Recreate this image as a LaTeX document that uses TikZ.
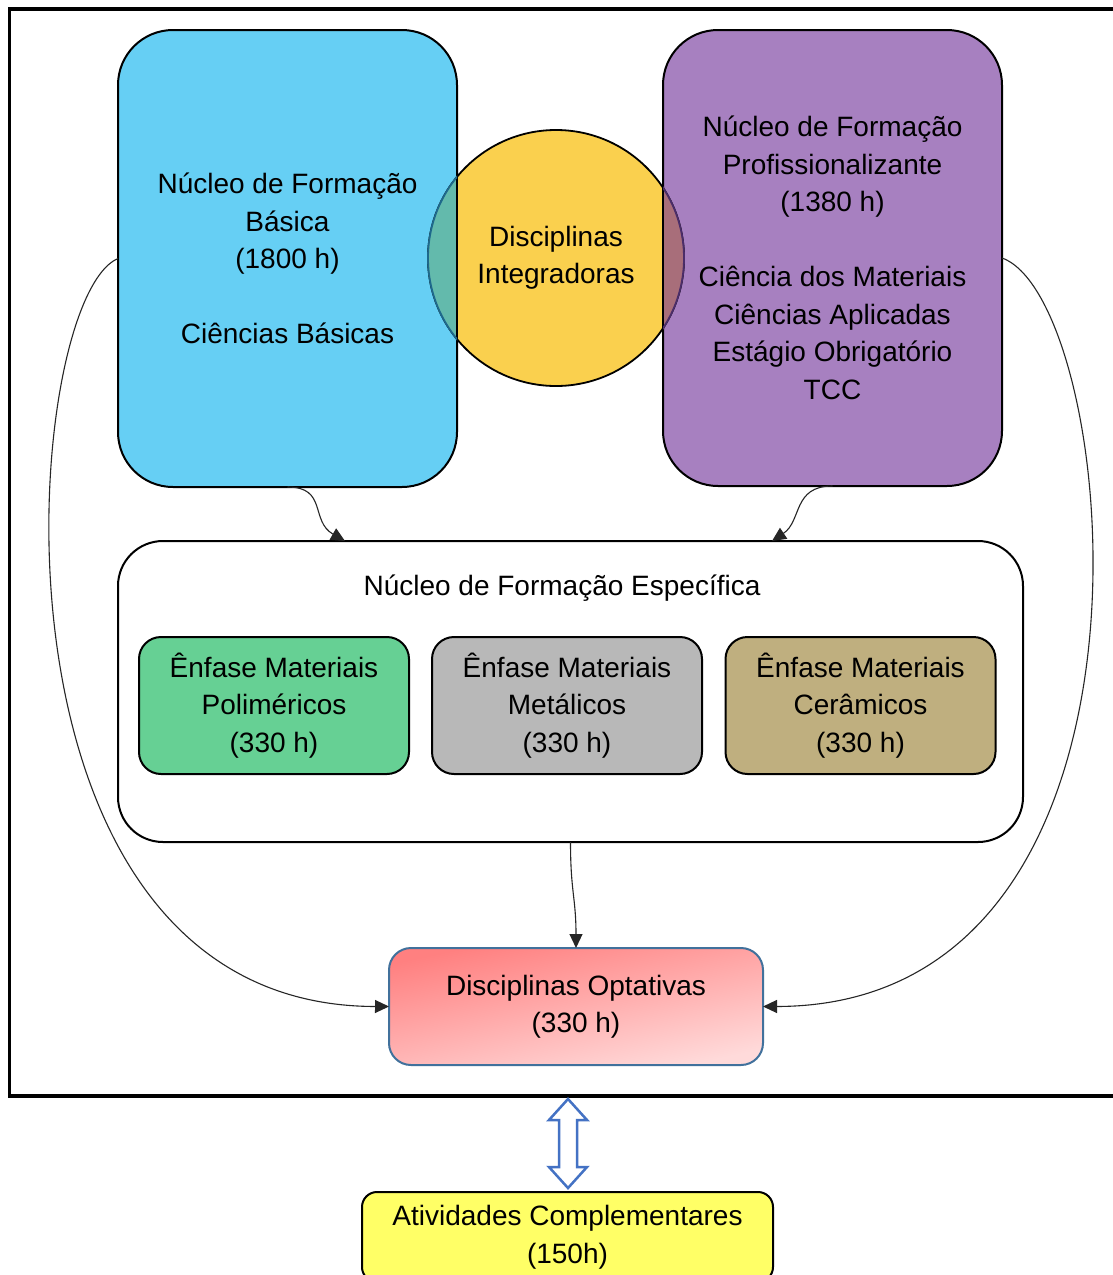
\documentclass[tikz,border=0pt]{standalone}
\usepackage{fontspec}
\setmainfont{Liberation Sans}
\usepackage{xcolor}
\usepackage{tikz}
\usetikzlibrary{arrows.meta}
\usetikzlibrary{calc}
\definecolor{azul}{RGB}{102,207,244}
\definecolor{roxo}{RGB}{167,128,192}
\definecolor{amarelo}{RGB}{250,208,78}
\definecolor{verdeazul}{RGB}{99,186,172}
\definecolor{vinho}{RGB}{168,110,122}
\definecolor{arcoazul}{RGB}{30,105,140}
\definecolor{arcoroxo}{RGB}{75,45,105}
\definecolor{verde}{RGB}{102,208,148}
\definecolor{cinza}{RGB}{184,184,184}
\definecolor{caqui}{RGB}{191,175,127}
\definecolor{rosaA}{RGB}{255,128,128}
\definecolor{rosaB}{RGB}{255,218,218}
\definecolor{bordaopt}{RGB}{65,113,156}
\definecolor{limao}{RGB}{255,255,102}
\definecolor{setaazul}{RGB}{68,114,196}

\begin{document}
\begin{tikzpicture}[x=1pt,y=-1pt,
  texto/.style={font=\fontsize{28}{37.5}\selectfont, align=center},
  bloco/.style={texto, draw, line width=2pt, inner sep=0pt, outer sep=0pt, rounded corners=55pt,
    minimum width=339pt, minimum height=457pt},
  enfase/.style={texto, draw, line width=2pt, inner sep=0pt, rounded corners=22pt,
    minimum width=270pt, minimum height=137pt},
  seta/.style={draw=black!85, line width=1.1pt, -{Triangle[length=14pt,width=13pt]}}]
\clip (0,0) rectangle (1113,1275);
\fill[white] (0,0) rectangle (1113,1275);
\draw[line width=3.5pt] (9.5,9) rectangle (1130,1096);

\node[bloco, fill=azul] (basica) at (287.5,258.5)
  {N\'ucleo de Forma\c{c}\~ao\\B\'asica\\(1800 h)\\[37.5pt]Ci\^encias B\'asicas};
\node[bloco, fill=roxo, minimum height=456pt] (prof) at (832.5,258)
  {N\'ucleo de Forma\c{c}\~ao\\Profissionalizante\\(1380 h)\\[37.5pt]Ci\^encia dos Materiais\\Ci\^encias Aplicadas\\Est\'agio Obrigat\'orio\\TCC};
\node[texto, circle, draw, fill=amarelo, line width=1.8pt, inner sep=0pt, minimum size=256pt]
  (integ) at (556,258) {Disciplinas\\Integradoras};
\begin{scope}
\clip (integ.center) circle (128pt);
\fill[verdeazul] (basica.south west) rectangle (basica.north east);
\fill[vinho] (prof.south west) rectangle (prof.north east);
\draw[line width=2pt] ($(basica.east)+(0,-140)$) -- ($(basica.east)+(0,140)$);
\draw[line width=2pt] ($(prof.west)+(0,-140)$) -- ($(prof.west)+(0,140)$);
\end{scope}
\begin{scope}
\clip (basica.south west) rectangle (basica.north east);
\draw[arcoazul, line width=1.8pt] (integ.center) circle (128pt);
\end{scope}
\begin{scope}
\clip (prof.south west) rectangle (prof.north east);
\draw[arcoroxo, line width=1.8pt] (integ.center) circle (128pt);
\end{scope}

\node[draw, line width=2pt, fill=white, rounded corners=45pt, minimum width=905pt,
  minimum height=301pt, inner sep=0pt, outer sep=0pt] (especifica) at (570.5,691.5) {};
\node[texto] (titulo) at (562,588) {N\'ucleo de Forma\c{c}\~ao Espec\'ifica};
\node[enfase, fill=verde] (polimeros) at (274,705.5) {\^Enfase Materiais\\Polim\'ericos\\(330 h)};
\node[enfase, fill=cinza] (metais) at (567,705.5) {\^Enfase Materiais\\Met\'alicos\\(330 h)};
\node[enfase, fill=caqui] (ceramicos) at (860.5,705.5) {\^Enfase Materiais\\Cer\^amicos\\(330 h)};

\node[texto, draw=bordaopt, line width=2pt, inner sep=0pt, outer sep=0pt, rounded corners=22pt,
  minimum width=374pt, minimum height=117pt, top color=rosaA, bottom color=rosaB,
  shading angle=12] (optativas) at (576,1006.5) {Disciplinas Optativas\\(330 h)};
\node[texto, draw, fill=limao, line width=2pt, inner sep=0pt, rounded corners=15pt,
  minimum width=411pt, minimum height=90pt] (atividades) at (567.5,1237)
  {Atividades Complementares\\(150h)};

\draw[seta] (basica.south) .. controls +(40,0) and +(-35,-20) .. ([xshift=-225.5pt]especifica.north);
\draw[seta] (prof.south) .. controls +(-40,0) and +(30,-20) .. ([xshift=201.5pt]especifica.north);
\draw[seta] (basica.west) .. controls (20,300) and (-32,1006) .. (optativas.west);
\draw[seta] (prof.east) .. controls (1120,300) and (1190,1006) .. (optativas.east);
\draw[seta] (especifica.south) .. controls +(0,50) and +(0,-50) .. (optativas.north);

\draw[setaazul, line width=2.5pt, fill=white, line join=miter]
  (568,1099) -- (587,1120) -- (577,1120) -- (577,1167) -- (587,1167) -- (568,1188)
  -- (549,1167) -- (559,1167) -- (559,1120) -- (549,1120) -- cycle;
\end{tikzpicture}
\end{document}
